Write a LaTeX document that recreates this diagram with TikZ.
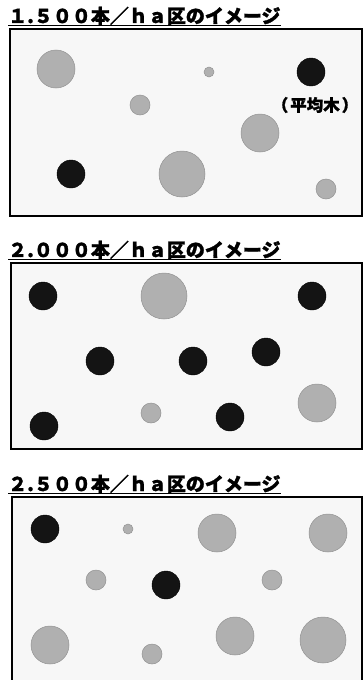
\documentclass[tikz,border=0pt]{standalone}
\usepackage{fontspec}
\newfontfamily\cjk{Noto Sans CJK JP}[FakeBold=1.5]
\begin{document}
\begin{tikzpicture}[x=1pt,y=-1pt,
  panel/.style={draw=black,line width=1.6pt,fill=black!3},
  title/.style={anchor=south west,inner sep=0pt,font=\cjk\bfseries\fontsize{19}{20}\selectfont},
  uline/.style={line width=1pt},
  gtree/.style={fill=gray!62,draw=gray!85,line width=0.5pt},
  btree/.style={fill=black!92,draw=black,line width=0.4pt},
  lbl/.style={font=\cjk\bfseries\fontsize{16.5}{17}\selectfont,inner sep=0pt}]
\useasboundingbox (0,0) rectangle (363,680);
\clip (0,0) rectangle (363,680);
% ---------- panel 1 ----------
\node[title] (t1) at (8,25) {１.５００本／ｈａ区のイメージ};
\draw[uline] (t1.south west) -- (t1.south east);
\draw[panel] (10,29) rectangle (362,216);
\fill[gtree] (56,69) circle (19);
\fill[gtree] (209,72) circle (5);
\fill[btree] (311,72) circle (14);
\fill[gtree] (140,105) circle (10);
\node[lbl] (avg) at (315,105) {（\hspace{2pt}平均木\hspace{2pt}）};
\fill[gtree] (260,133) circle (19);
\fill[btree] (71,174) circle (14);
\fill[gtree] (182,174) circle (23);
\fill[gtree] (326,189) circle (10);
% ---------- panel 2 ----------
\node[title] (t2) at (8,259) {２.０００本／ｈａ区のイメージ};
\draw[uline] (t2.south west) -- (t2.south east);
\draw[panel] (11,263) rectangle (362,449);
\fill[btree] (43,296) circle (14);
\fill[gtree] (164,296) circle (23);
\fill[btree] (312,296) circle (14);
\fill[btree] (100,361) circle (14);
\fill[btree] (193,361) circle (14);
\fill[btree] (266,352) circle (14);
\fill[gtree] (317,403) circle (19);
\fill[gtree] (151,413) circle (10);
\fill[btree] (230,417) circle (14);
\fill[btree] (44,426) circle (14);
% ---------- panel 3 ----------
\node[title] (t3) at (8,493) {２.５００本／ｈａ区のイメージ};
\draw[uline] (t3.south west) -- (t3.south east);
\draw[panel] (12,497) rectangle (362,695);
\fill[btree] (45,529) circle (14);
\fill[gtree] (128,529) circle (5);
\fill[gtree] (217,533) circle (19);
\fill[gtree] (328,533) circle (19);
\fill[gtree] (96,580) circle (10);
\fill[btree] (166,585) circle (14);
\fill[gtree] (272,580) circle (10);
\fill[gtree] (50,645) circle (19);
\fill[gtree] (152,654) circle (10);
\fill[gtree] (235,636) circle (19);
\fill[gtree] (323,640) circle (23);
\end{tikzpicture}
\end{document}
